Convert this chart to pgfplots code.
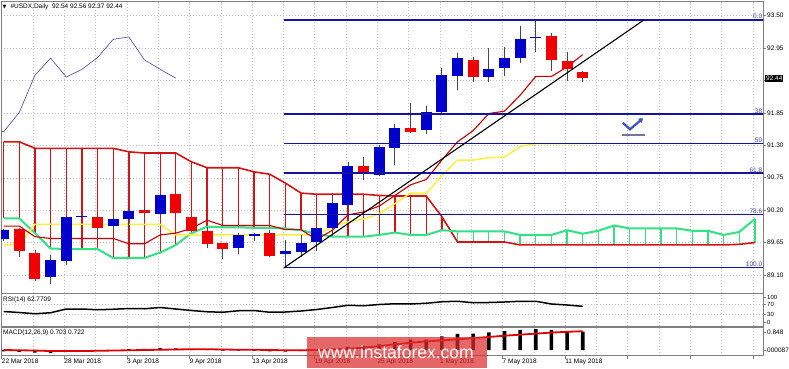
\documentclass[border=0pt]{standalone}
\usepackage{pgfplots}
\pgfplotsset{compat=1.18}
\usepackage{pgfplotstable}
\usepackage{fontspec}
\setmainfont{Liberation Sans}
\newfontfamily\dejavu{DejaVu Sans}
\usetikzlibrary{arrows.meta}

\definecolor{bull}{RGB}{0,0,205}
\definecolor{bear}{RGB}{240,0,0}
\definecolor{wick}{RGB}{70,70,70}
\definecolor{tenkan}{RGB}{200,0,0}
\definecolor{kijun}{RGB}{252,240,60}
\definecolor{cloudred}{RGB}{210,20,20}
\definecolor{cloudgreen}{RGB}{50,225,130}
\definecolor{chikou}{RGB}{90,90,160}
\definecolor{fib}{RGB}{20,20,160}
\definecolor{fiblab}{RGB}{70,70,170}
\definecolor{gridc}{RGB}{195,195,195}
\definecolor{frame}{RGB}{128,128,128}
\definecolor{wm}{RGB}{220,45,45}
\definecolor{sigred}{RGB}{225,0,0}
\definecolor{checkblue}{RGB}{60,80,200}
\definecolor{checkgray}{RGB}{110,120,150}

\newcommand\tf{\fontsize{6.5}{7.5}\selectfont}

\pgfplotstableread{
i o h l c
-1 89.71 89.88 89.68 89.86
0 89.88 89.89 89.41 89.51
1 89.48 89.52 88.99 89.04
2 89.06 89.44 88.95 89.35
3 89.34 90.10 89.27 90.09
4 90.08 90.11 90.06 90.10
5 90.09 90.11 89.75 89.90
6 89.93 90.12 89.86 90.05
7 90.05 90.26 89.89 90.19
8 90.20 90.23 90.09 90.15
9 90.14 90.47 90.06 90.46
10 90.47 90.51 90.13 90.15
11 90.08 90.09 89.83 89.85
12 89.85 89.92 89.55 89.63
13 89.64 89.65 89.37 89.54
14 89.55 89.81 89.46 89.78
15 89.77 89.81 89.67 89.80
16 89.81 89.86 89.41 89.42
17 89.45 89.69 89.23 89.50
18 89.49 89.78 89.41 89.64
19 89.66 89.92 89.50 89.89
20 89.90 90.49 89.86 90.33
21 90.28 91.01 90.23 90.95
22 90.95 91.11 90.72 90.81
23 90.80 91.30 90.78 91.28
24 91.26 91.67 90.97 91.60
25 91.59 92.02 91.51 91.53
26 91.56 91.96 91.50 91.86
27 91.87 92.61 91.83 92.49
28 92.48 92.86 92.24 92.78
29 92.75 92.80 92.38 92.46
30 92.46 92.95 92.38 92.59
31 92.61 92.97 92.48 92.79
32 92.79 93.33 92.69 93.10
33 93.12 93.43 92.88 93.14
34 93.16 93.20 92.57 92.75
35 92.74 92.88 92.40 92.59
36 92.54 92.56 92.37 92.44
}\ohlc

\pgfplotstableread{
i t k
-1 89.93 89.61
0 89.93 89.61
1 89.75 89.96
2 89.72 89.96
3 89.72 89.96
4 89.72 89.96
5 89.72 89.96
6 89.72 89.96
7 89.63 89.96
8 89.63 89.96
9 89.78 89.96
10 89.81 89.78
11 89.89 89.78
12 90.03 89.78
13 89.94 89.78
14 89.94 89.78
15 89.94 89.78
16 89.94 89.78
17 89.87 89.78
18 89.87 89.78
19 89.70 89.78
20 89.86 89.92
21 90.12 90.00
22 90.17 90.05
23 90.27 90.14
24 90.45 90.31
25 90.63 90.49
26 90.72 90.49
27 91.05 90.78
28 91.36 91.05
29 91.55 91.05
30 91.84 91.09
31 91.88 91.10
32 92.15 91.28
33 92.47 91.33
34 92.47 91.33
35 92.63 91.33
36 92.84 91.33
}\ichi

\pgfplotstableread{
i r g
-1 91.36 90.06
0 91.36 90.06
1 91.25 89.81
2 91.25 89.55
3 91.25 89.54
4 91.25 89.54
5 91.25 89.54
6 91.25 89.39
7 91.19 89.39
8 91.17 89.39
9 91.17 89.48
10 91.17 89.61
11 91.02 89.81
12 90.92 89.92
13 90.92 89.91
14 90.92 89.91
15 90.85 89.90
16 90.81 89.90
17 90.66 89.89
18 90.49 89.86
19 90.47 89.80
20 90.47 89.75
21 90.47 89.75
22 90.47 89.75
23 90.45 89.78
24 90.44 89.82
25 90.44 89.78
26 90.44 89.78
27 90.09 89.86
28 89.66 89.84
29 89.66 89.84
30 89.66 89.84
31 89.66 89.84
32 89.61 89.78
33 89.61 89.78
34 89.61 89.78
35 89.61 89.86
36 89.61 89.80
37 89.61 89.85
38 89.61 89.94
39 89.61 89.89
40 89.61 89.89
41 89.61 89.89
42 89.61 89.89
43 89.61 89.85
44 89.61 89.85
45 89.61 89.78
46 89.62 89.83
47 89.65 90.05
}\cloud

\pgfplotstableread{
i v
-1 42
0 38
1 33
2 37
3 52
4 52
5 49
6 51
7 54
8 53
9 58
10 52
11 46
12 41
13 39
14 45
15 46
16 39
17 40
18 44
19 50
20 58
21 67
22 65
23 70
24 73
25 72
26 75
27 81
28 83
29 77
30 78
31 80
32 83
33 83
34 72
35 68
36 62.77
}\rsi

\pgfplotstableread{
i h s
-1 -0.05 0.00
0 -0.07 -0.01
1 -0.10 -0.02
2 -0.12 -0.04
3 -0.06 -0.04
4 -0.03 -0.04
5 -0.02 -0.03
6 0.00 -0.02
7 0.03 -0.01
8 0.04 0.00
9 0.07 0.01
10 0.06 0.02
11 0.04 0.03
12 0.01 0.03
13 -0.02 0.02
14 -0.02 0.01
15 -0.02 0.01
16 -0.05 0.00
17 -0.06 -0.01
18 -0.04 -0.01
19 0.02 0.00
20 0.06 0.02
21 0.12 0.05
22 0.16 0.09
23 0.22 0.15
24 0.30 0.22
25 0.40 0.28
26 0.40 0.33
27 0.52 0.37
28 0.62 0.41
29 0.63 0.46
30 0.68 0.50
31 0.73 0.55
32 0.77 0.59
33 0.80 0.63
34 0.77 0.67
35 0.73 0.70
36 0.703 0.722
}\macd

\pgfplotsset{
  panel/.style={
    scale only axis, width=762pt, xmin=-1.169, xmax=47.52, anchor=south west,
    axis line style={frame, line width=0.7pt},
    xtick={-1.125,2.875,6.875,10.875,14.875,18.875,22.875,26.875,30.875,34.875,38.875,42.875,46.875},
    minor xtick={0.875,4.875,8.875,12.875,16.875,20.875,24.875,28.875,32.875,36.875,40.875,44.875},
    xmajorgrids, xminorgrids,
    major grid style={gridc, dash pattern=on 1pt off 2pt, line width=0.5pt},
    minor grid style={gridc, dash pattern=on 1pt off 2pt, line width=0.5pt},
    tick align=outside, major tick length=3pt, minor tick length=0pt,
    tick style={frame, line width=0.6pt},
    ytick pos=right, yticklabel pos=right,
    yticklabel style={font=\tf, anchor=west, inner sep=0pt, xshift=1pt},
    xticklabel style={font=\tf, anchor=north west, inner sep=0pt},
    clip mode=individual,
  }
}

\begin{document}
\begin{tikzpicture}
\useasboundingbox (0,0) rectangle (789pt,368pt);

% ---------------- main price panel ----------------
\begin{axis}[panel, at={(1pt,74.7pt)}, height=291.6pt, ymin=88.789, ymax=93.738,
  xticklabels={}, xtick style={draw=none},
  ytick={89.10,89.65,90.20,90.75,91.30,91.85,92.40,92.95,93.50},
  yticklabels={89.10,89.65,90.20,90.75,91.30,91.85,{},92.95,93.50},
  ymajorgrids]
  % cloud hatching
  \addplot[draw=none, mark=none, forget plot, error bars/.cd, y dir=minus, y explicit, error mark=none,
    error bar style={draw=cloudred, line width=1.3pt}]
    table[x=i, y=r, y error expr={max(\thisrow{r}-\thisrow{g},0)}] {\cloud};
  \addplot[draw=none, mark=none, forget plot, error bars/.cd, y dir=minus, y explicit, error mark=none,
    error bar style={draw=cloudgreen, line width=1.3pt}]
    table[x=i, y=g, y error expr={max(\thisrow{g}-\thisrow{r},0)}] {\cloud};
  % cloud boundaries
  \addplot[cloudred, line width=1.6pt, mark=none] table[x=i, y=r] {\cloud};
  \addplot[cloudgreen, line width=2pt, mark=none] table[x=i, y=g] {\cloud};
  % kijun / tenkan
  \addplot[kijun, line width=1.5pt, mark=none] table[x=i, y=k] {\ichi};
  \addplot[tenkan, line width=1.1pt, mark=none] table[x=i, y=t] {\ichi};
  % chikou (close shifted 26 bars back)
  \addplot[chikou, line width=0.7pt, mark=none] table[x expr=\thisrow{i}-26, y=c] {\ohlc};
  % wicks
  \addplot[draw=none, mark=none, forget plot, error bars/.cd, y dir=plus, y explicit, error mark=none,
    error bar style={draw=wick, line width=0.9pt}]
    table[x=i, y=l, y error expr={\thisrow{h}-\thisrow{l}}] {\ohlc};
  % bodies
  \addplot[draw=none, mark=none, forget plot, error bars/.cd, y dir=plus, y explicit, error mark=none,
    error bar style={draw=bull, line width=11pt}]
    table[x=i, y=o, y error expr={max(\thisrow{c}-\thisrow{o},0)}] {\ohlc};
  \addplot[draw=none, mark=none, forget plot, error bars/.cd, y dir=plus, y explicit, error mark=none,
    error bar style={draw=bear, line width=11pt}]
    table[x=i, y=c, y error expr={max(\thisrow{o}-\thisrow{c},0)}] {\ohlc};
  % fibonacci levels
  \addplot[fib, line width=1.4pt, mark=none] coordinates {(16.9,93.43) (48,93.43)};
  \addplot[fib, line width=1.4pt, mark=none] coordinates {(16.9,91.83) (48,91.83)};
  \addplot[fib, line width=1.4pt, mark=none] coordinates {(16.9,91.33) (48,91.33)};
  \addplot[fib, line width=1.4pt, mark=none] coordinates {(16.9,90.83) (48,90.83)};
  \addplot[fib, line width=1.4pt, mark=none] coordinates {(16.9,90.13) (48,90.13)};
  \addplot[fib, line width=1.4pt, mark=none] coordinates {(16.9,89.23) (48,89.23)};
  % trend line
  \addplot[black, line width=1.1pt, mark=none] coordinates {(16.9,89.22) (39.92,93.43)};
  % fib labels
  \node[anchor=south east, inner sep=0.6pt, font=\tf, text=fiblab] at (axis cs:47.52,93.43) {0.0};
  \node[anchor=south east, inner sep=0.6pt, font=\tf, text=fiblab] at (axis cs:47.52,91.83) {38};
  \node[anchor=south east, inner sep=0.6pt, font=\tf, text=fiblab] at (axis cs:47.52,91.33) {50};
  \node[anchor=south east, inner sep=0.6pt, font=\tf, text=fiblab] at (axis cs:47.52,90.83) {61.8};
  \node[anchor=south east, inner sep=0.6pt, font=\tf, text=fiblab] at (axis cs:47.52,90.13) {78.6};
  \node[anchor=south east, inner sep=0.6pt, font=\tf, text=fiblab] at (axis cs:47.52,89.23) {100.0};
  % check symbol
  \draw[checkgray, line width=2pt] (axis cs:38.49,91.476) -- (axis cs:39.98,91.476);
  \draw[checkblue, line width=2.2pt, -{Triangle[length=4pt,width=5.5pt]}]
    (axis cs:38.56,91.684) -- (axis cs:39.02,91.572) -- (axis cs:39.85,91.76);
  \coordinate (lastp) at (axis cs:47.52,92.44);
\end{axis}

% ---------------- RSI panel ----------------
\begin{axis}[panel, at={(1pt,42pt)}, height=32.7pt, ymin=-16, ymax=114.8,
  xticklabels={}, xtick style={draw=none},
  ytick={0,30,70,100}, yticklabels={0,30,70,100},
  yticklabel style={font=\fontsize{6}{6}\selectfont}]
  \addplot[gridc, dash pattern=on 1pt off 2pt, line width=0.5pt, mark=none] coordinates {(-2,70) (49,70)};
  \addplot[gridc, dash pattern=on 1pt off 2pt, line width=0.5pt, mark=none] coordinates {(-2,30) (49,30)};
  \addplot[black, line width=1.5pt, mark=none] table[x=i, y=v] {\rsi};
\end{axis}

% ---------------- MACD panel ----------------
\begin{axis}[panel, at={(1pt,12.5pt)}, height=28.2pt, ymin=-0.2115, ymax=0.873,
  xtick pos=bottom,
  xticklabels={22 Mar 2018,28 Mar 2018,3 Apr 2018,9 Apr 2018,13 Apr 2018,19 Apr 2018,25 Apr 2018,1 May 2018,7 May 2018,11 May 2018,{},{},{}},
  ytick={0,0.68}, yticklabels={000087,0.848}]
  \addplot[ybar, bar width=3.6pt, fill=black, draw=none] table[x=i, y=h] {\macd};
  \addplot[sigred, line width=1.8pt, mark=none] table[x=i, y=s] {\macd};
\end{axis}

% ---------------- texts ----------------
\node[anchor=west, inner sep=0pt, font=\tf] at (2.5pt,361pt)
  {{\dejavu\fontsize{5}{5}\selectfont ▼}\hspace{4pt}\#USDX,Daily\ \ 92.54 92.56 92.37 92.44};
\node[anchor=west, inner sep=0pt, font=\tf] at (3pt,68pt) {RSI(14) 62.7709};
\node[anchor=west, inner sep=0pt, font=\tf] at (3pt,34.7pt) {MACD(12,26,9) 0.703 0.722};
\node[fill=black, text=white, font=\tf, inner xsep=1pt, inner ysep=1.3pt, anchor=west] at ([xshift=2pt]lastp) {92.44};

% watermark
\fill[wm, opacity=0.72] (306.7pt,0pt) rectangle (486.5pt,30.7pt);
\node[text=white, anchor=base, inner sep=0pt, font=\fontsize{17.5}{18}\selectfont] at (396pt,9.7pt) {www.instaforex.com};
\end{tikzpicture}
\end{document}
